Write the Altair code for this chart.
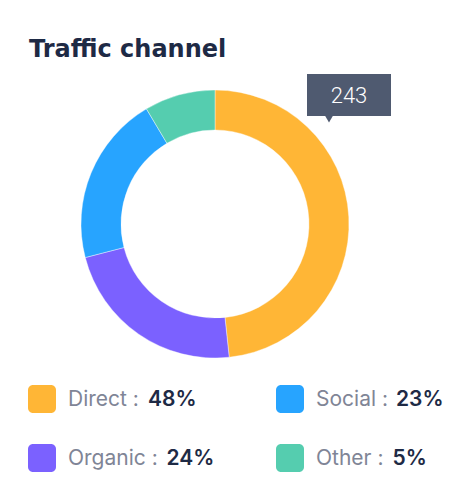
import altair as alt
import pandas as pd

# ---- data ----
channels = ["Direct", "Organic", "Social", "Other"]
visits = [243, 114, 103, 43]
pct_labels = ["48%", "24%", "23%", "5%"]
colors = ["#FFB636", "#7B61FF", "#27A4FF", "#55CDAF"]
legend_order = ["Direct", "Social", "Organic", "Other"]
title_text = "Traffic channel"

# ---- layout ----
W, H = 472, 502
CX, CY = 215, 224
R_OUT, R_IN = 134, 94
NAVY = "#1E2A45"
GREY = "#7F8596"
TIP = "#4F5A70"
FONT = "Inter"
LEG_SIZE = 21

# approximate advance widths (em) for the legend font
_w = {"D": .74, "i": .26, "r": .39, "e": .58, "c": .56, "t": .36, " ": .32, ":": .28,
      "O": .78, "g": .61, "a": .56, "n": .61, "S": .65, "o": .60, "l": .26, "h": .61}


def text_width(s, size):
    return sum(_w.get(ch, .6) for ch in s) * size


color_scale = alt.Scale(domain=channels, range=colors)

arc_df = pd.DataFrame({"channel": channels, "visits": visits, "k": range(len(channels))})
arcs = alt.Chart(arc_df).mark_arc(radius=R_OUT, radius2=R_IN, stroke="white", strokeWidth=0.4).encode(
    theta=alt.Theta("visits:Q", stack=True),
    order=alt.Order("k:Q"),
    color=alt.Color("channel:N", scale=color_scale, legend=None),
    x=alt.value(CX), y=alt.value(CY),
)

title = alt.Chart(pd.DataFrame({"t": [title_text]})).mark_text(
    align="left", baseline="alphabetic", font="DejaVu Sans", fontWeight="bold", fontSize=24, color=NAVY
).encode(text="t:N", x=alt.value(29), y=alt.value(57))

# legend
col_x = [28, 276]
row_y = [399, 458]
rows = []
for i, name in enumerate(legend_order):
    j = channels.index(name)
    x0 = col_x[i % 2]
    yc = row_y[i // 2]
    lab = name + " : "
    rows.append({
        "channel": name, "lab": lab, "pct": pct_labels[j],
        "x0": x0, "x1": x0 + 28, "y0": yc - 14, "y1": yc + 14,
        "tx": x0 + 40, "ty": yc + 7,
        "bx": x0 + 40 + text_width(lab, LEG_SIZE),
    })
leg_df = pd.DataFrame(rows)
leg_base = alt.Chart(leg_df)
swatch = leg_base.mark_rect(cornerRadius=5).encode(
    x=alt.X("x0:Q", scale=None), x2="x1:Q",
    y=alt.Y("y0:Q", scale=None), y2="y1:Q",
    color=alt.Color("channel:N", scale=color_scale, legend=None),
)
leg_lab = leg_base.mark_text(align="left", baseline="alphabetic", font=FONT, fontSize=LEG_SIZE,
                             color=GREY).encode(
    x=alt.X("tx:Q", scale=None), y=alt.Y("ty:Q", scale=None), text="lab:N")
leg_val = leg_base.mark_text(align="left", baseline="alphabetic", font=FONT, fontSize=LEG_SIZE,
                             fontWeight=600, color=NAVY).encode(
    x=alt.X("bx:Q", scale=None), y=alt.Y("ty:Q", scale=None), text="pct:N")

# tooltip callout for Direct
tip_df = pd.DataFrame({"v": [str(visits[0])], "x0": [307], "x1": [391], "y0": [74], "y1": [116],
                       "tx": [349], "ty": [96], "px": [329], "py": [118]})
tip_base = alt.Chart(tip_df)
tip_box = tip_base.mark_rect(color=TIP).encode(
    x=alt.X("x0:Q", scale=None), x2="x1:Q", y=alt.Y("y0:Q", scale=None), y2="y1:Q")
tip_ptr = tip_base.mark_point(shape="triangle-down", filled=True, size=110, color=TIP, opacity=1).encode(
    x=alt.X("px:Q", scale=None), y=alt.Y("py:Q", scale=None))
tip_txt = tip_base.mark_text(align="center", baseline="middle", font="Roboto", fontWeight=300,
                             fontSize=22, color="white").encode(
    x=alt.X("tx:Q", scale=None), y=alt.Y("ty:Q", scale=None), text="v:N")

chart = alt.layer(arcs, title, swatch, leg_lab, leg_val, tip_box, tip_ptr, tip_txt).properties(
    width=W, height=H, autosize="none", padding=0, background="white"
).configure_view(stroke=None)

chart.save("out.html", embed_options={"renderer": "svg", "actions": False})
